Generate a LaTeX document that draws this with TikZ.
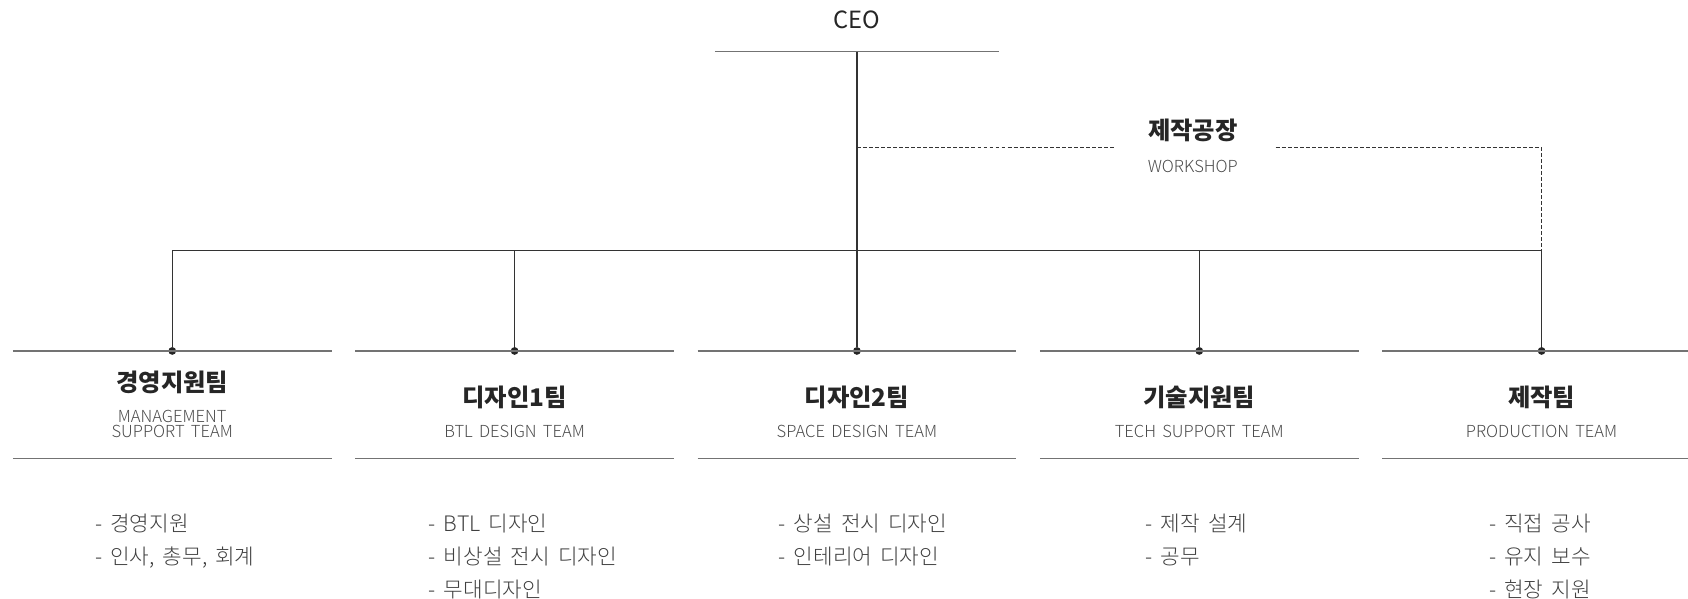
\documentclass[tikz,border=0pt]{standalone}
\usepackage{fontspec}
\setmainfont{Noto Sans CJK KR}
\newfontfamily\krlight{Noto Sans CJK KR Light}
\newfontfamily\krlist[WordSpace=1.7]{Noto Sans CJK KR Light}
\usetikzlibrary{positioning}

\begin{document}
\begin{tikzpicture}[x=0.5pt,y=-0.5pt,
                  conn/.style={draw=black!80,line width=0.6pt},
                  bar/.style={draw=black!55,line width=0.7pt},
                  dot/.style={circle,fill=black!85,inner sep=0pt,minimum size=3.6pt},
                  head/.style={font=\fontsize{11}{13}\selectfont,text=black!85,inner sep=0pt},
                  ttl/.style={font=\fontsize{11.3}{13}\selectfont\bfseries,text=black!85,inner sep=0pt},
                  sub/.style={font=\krlight\fontsize{7.7}{7.2}\selectfont,text=black!70,inner sep=0pt,
                    anchor=north,align=center},
                  duty/.style={font=\krlist\fontsize{9.9}{15.5}\selectfont,text=black!75,inner sep=0pt,
                    anchor=north west,align=left}
                  ]
                  \useasboundingbox (0,0) rectangle (1568,555.5);

                  % top
                  \node[head] (ceo) at (796,18) {CEO};
                  \coordinate (ceoL) at (664,48);
                  \coordinate (ceoR) at (928,48);
                  \coordinate (ceoM) at (796,48);
                  \draw[bar] (ceoL) -- (ceoR);

                  % workshop
                  \node[ttl] (shop) at (1108,121.5) {제작공장};
                  \node[sub] (shopen) at (1108,148) {WORKSHOP};
                  \coordinate (w0) at (796,137);
                  \coordinate (wL) at (1035,137);
                  \coordinate (wR) at (1185,137);
                  \coordinate (wC) at (1432,137);

                  % bus
                  \coordinate (j1) at (160,233);
                  \coordinate (j2) at (478,233);
                  \coordinate (j3) at (796,233);
                  \coordinate (j4) at (1114,233);
                  \coordinate (j5) at (1432,233);
                  \node[dot] (d1) at (160,326) {};
                  \node[dot] (d2) at (478,326) {};
                  \node[dot] (d3) at (796,326) {};
                  \node[dot] (d4) at (1114,326) {};
                  \node[dot] (d5) at (1432,326) {};

                  \draw[conn] (ceoM) -- (d3);
                  \draw[conn] (j1) -- (j5);
                  \draw[conn] (j1) -- (d1);
                  \draw[conn] (j2) -- (d2);
                  \draw[conn] (j4) -- (d4);
                  \draw[conn] (j5) -- (d5);
                  \draw[conn,dash pattern=on 1.8pt off 1pt] (w0) -- (wL);
                  \draw[conn,dash pattern=on 1.8pt off 1pt] (wR) -- (wC) -- (j5);

                  % team bars
                  \draw[bar] ([xshift=-74pt]d1.center) -- ([xshift=74pt]d1.center);
                  \draw[bar] ([xshift=-74pt]d2.center) -- ([xshift=74pt]d2.center);
                  \draw[bar] ([xshift=-74pt]d3.center) -- ([xshift=74pt]d3.center);
                  \draw[bar] ([xshift=-74pt]d4.center) -- ([xshift=74pt]d4.center);
                  \draw[bar] ([xshift=-74pt]d5.center) -- ([xshift=68pt]d5.center);
                  \draw[bar] ([shift={(-74pt,-50pt)}]d1.center) -- ([shift={(74pt,-50pt)}]d1.center);
                  \draw[bar] ([shift={(-74pt,-50pt)}]d2.center) -- ([shift={(74pt,-50pt)}]d2.center);
                  \draw[bar] ([shift={(-74pt,-50pt)}]d3.center) -- ([shift={(74pt,-50pt)}]d3.center);
                  \draw[bar] ([shift={(-74pt,-50pt)}]d4.center) -- ([shift={(74pt,-50pt)}]d4.center);
                  \draw[bar] ([shift={(-74pt,-50pt)}]d5.center) -- ([shift={(68pt,-50pt)}]d5.center);

                  % teams
                  \node[ttl] (mgmt) at (160,355.4) {경영지원팀};
                  \node[sub] (mgmten) at (160,380.5) {MANAGEMENT\\SUPPORT TEAM};
                  \node[ttl] (btl) at (478,369) {디자인1팀};
                  \node[sub] (btlen) at (478,394.8) {BTL DESIGN TEAM};
                  \node[ttl] (space) at (796,369) {디자인2팀};
                  \node[sub] (spaceen) at (796,394.8) {SPACE DESIGN TEAM};
                  \node[ttl] (tech) at (1114,369) {기술지원팀};
                  \node[sub] (techen) at (1114,394.8) {TECH SUPPORT TEAM};
                  \node[ttl] (prod) at (1432,369) {제작팀};
                  \node[sub] (proden) at (1432,394.8) {PRODUCTION TEAM};

                  % duties
                  \node[duty] (mgmtjob) at (88,476.7) {- 경영지원\\- 인사, 총무, 회계};
                  \node[duty] (btljob) at (398,476.7) {- BTL 디자인\\- 비상설 전시 디자인\\- 무대디자인};
                  \node[duty] (spacejob) at (723,476.7) {- 상설 전시 디자인\\- 인테리어 디자인};
                  \node[duty] (techjob) at (1064,476.7) {- 제작 설계\\- 공무};
                  \node[duty] (prodjob) at (1383,476.7) {- 직접 공사\\- 유지 보수\\- 현장 지원};
                \end{tikzpicture}
\end{document}
